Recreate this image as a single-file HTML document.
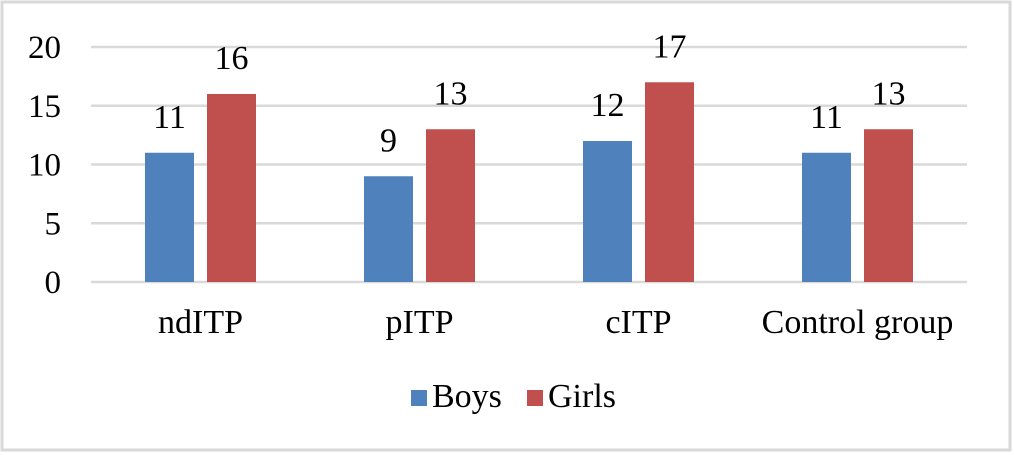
<!DOCTYPE html>
<html><head><meta charset="utf-8"><style>
html,body{margin:0;padding:0;background:#fff;}
svg{display:block;font-family:"Liberation Serif",serif;}
</style></head><body>
<svg id="chart" width="1014" height="455">
<rect x="2" y="2" width="1008" height="448" fill="#fff" stroke="#d9d9d9" stroke-width="3"/>
<g id="grid"></g><g id="bars"></g><g id="labels"></g>
<g>
<rect x="411" y="390" width="16" height="16" fill="#4f81bd"/>
<text x="432" y="407" font-size="34">Boys</text>
<rect x="527" y="390" width="16" height="16" fill="#c0504d"/>
<text x="548" y="407" font-size="34">Girls</text>
</g>
</svg>
<script>
const categories = ["ndITP","pITP","cITP","Control group"];
const boys = [11,9,12,11];
const girls = [16,13,17,13];
const ticks = [0,5,10,15,20];
const NS="http://www.w3.org/2000/svg";
const x0=91,x1=967,y0=282,y20=47;
const bw=(x1-x0)/categories.length;
function yS(v){return y0-(v/20)*(y0-y20);}
function mk(t,a,p){const e=document.createElementNS(NS,t);for(const k in a)e.setAttribute(k,a[k]);document.getElementById(p).appendChild(e);return e;}
ticks.forEach(t=>{
 const l=mk("line",{x1:x0,x2:x1,y1:yS(t),y2:yS(t),stroke:"#d9d9d9","stroke-width":2.5},"grid");
 
 
 const tx=mk("text",{x:61,y:yS(t)+11,"text-anchor":"end","font-size":33},"grid");
 tx.textContent=t;
 
 
});
categories.forEach((c,i)=>{
 const cx=x0+bw*(i+0.5);
 [[boys[i],cx-6.5-49,"#4f81bd","boys"],[girls[i],cx+6.5,"#c0504d","girls"]].forEach(([v,x,col,s])=>{
  const r=mk("rect",{x:x,y:yS(v),width:49,height:y0-yS(v),fill:col},"bars");
  
  
  const t=mk("text",{x:x+24.5,y:yS(v)-25,"text-anchor":"middle","font-size":34},"labels");
  t.textContent=v;
  
  
 });
 const t=mk("text",{x:cx,y:333,"text-anchor":"middle","font-size":34},"labels");
 t.textContent=c;
 
 
});
</script>
</body></html>
